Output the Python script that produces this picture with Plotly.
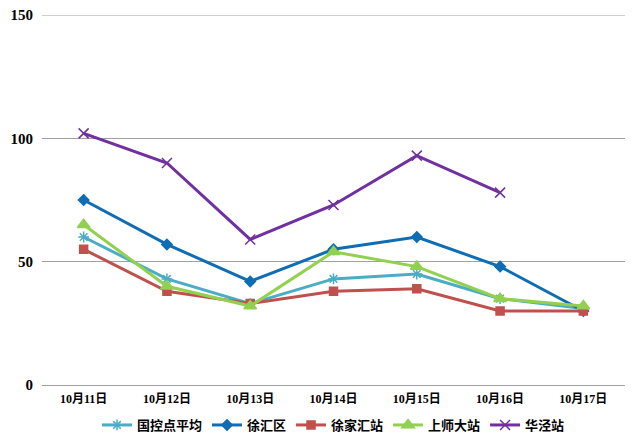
import plotly.graph_objects as go

dates = ["10月11日", "10月12日", "10月13日", "10月14日", "10月15日", "10月16日", "10月17日"]
guokong = [60, 43, 33, 43, 45, 35, 31]
xuhui = [75, 57, 42, 55, 60, 48, 30]
xujiahui = [55, 38, 33, 38, 39, 30, 30]
shangshida = [65, 40, 32, 54, 48, 35, 32]
huajing = [102, 90, 59, 73, 93, 78, None]

series = [
    ("国控点平均", guokong, "#4BACC6", "asterisk-open", 9),
    ("徐汇区", xuhui, "#0F6DB3", "diamond", 8),
    ("徐家汇站", xujiahui, "#C0504D", "square", 8),
    ("上师大站", shangshida, "#92D050", "triangle-up", 11),
    ("华泾站", huajing, "#7030A0", "x-thin-open", 10),
]

fig = go.Figure()
for name, vals, color, sym, size in series:
    fig.add_trace(go.Scatter(
        x=dates, y=vals, name=name, mode="lines+markers",
        line=dict(color=color, width=3),
        marker=dict(symbol=sym, size=size, color=color,
                    line=dict(color=color, width=1.5)),
    ))

# plot area: top 15px, 0-line at 385px of 448
H = 448
top = 15
bottom_px = 385
plot_h = H - top
dom_bottom = 1 - (bottom_px - top) / plot_h

fig.update_layout(
    width=640, height=H,
    margin=dict(l=42, r=15, t=top, b=0),
    paper_bgcolor="white", plot_bgcolor="white",
    font=dict(family="Liberation Serif, Noto Sans CJK SC", size=12, color="#000000"),
    showlegend=True,
    legend=dict(orientation="h", x=0.5, xanchor="center",
                y=(H - 425) / plot_h, yanchor="middle",
                font=dict(family="Noto Sans CJK SC", size=13, weight="bold"),
                itemwidth=30, tracegroupgap=0),
    xaxis=dict(type="category", range=[-0.5, 6.5], showgrid=False, showline=False, zeroline=False,
               ticks="", automargin=False, ticklabelstandoff=5,
               tickfont=dict(family="Liberation Serif, Noto Sans CJK SC", size=12, weight="bold")),
    yaxis=dict(domain=[dom_bottom, 1], range=[0, 150], tickvals=[0, 50, 100, 150], showgrid=True,
               gridcolor="#A0A0A0", gridwidth=1, zeroline=True, zerolinecolor="#A0A0A0",
               zerolinewidth=1, showline=False, automargin=False,
               ticks="", ticklabelstandoff=8,
               tickfont=dict(family="Liberation Serif", size=15, weight="bold")),
)
fig.add_shape(type="line", xref="paper", yref="y", x0=0, x1=1, y0=150, y1=150,
              line=dict(color="#A0A0A0", width=1), layer="below")

fig.write_html("out.html")
